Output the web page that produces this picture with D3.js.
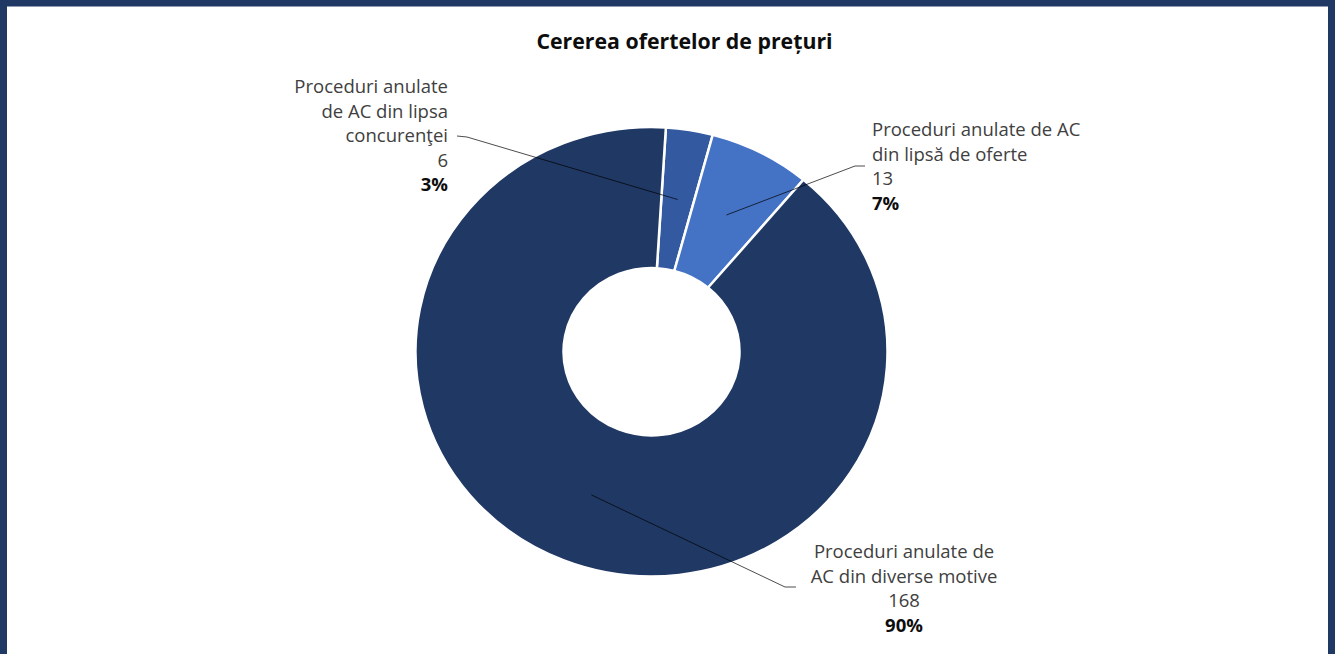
<!DOCTYPE html>
<html>
<head>
<meta charset="utf-8">
<script src="https://cdn.jsdelivr.net/npm/d3@7"></script>
<style>
  html, body { margin: 0; padding: 0; background: #fff; }
  svg { display: block; }
</style>
</head>
<body>
<div id="chart"></div>
<script>
// data
let categories = [
    ["Proceduri anulate", "de AC din lipsa", "concurenţei"],
    ["Proceduri anulate de AC", "din lipsă de oferte"],
    ["Proceduri anulate de", "AC din diverse motive"]
];
let values = [6, 13, 168];
let percents = ["3%", "7%", "90%"];
let colors = ["#335AA1", "#4472C4", "#203864"];

let W = 1336, H = 654;
let cx = 651.5, cy = 351.7, sy = 0.952;
let outerR = 236, innerR = 88;

// label layout: text anchor point, alignment, leader elbow and end
let labelLayout = [
    {x: 448, y: 93, anchor: "end", elbow: [467, 137], end: [457, 136]},
    {x: 872, y: 136, anchor: "start", elbow: [855, 166], end: [865, 166]},
    {x: 904, y: 558, anchor: "middle", elbow: [785, 587], end: [796, 587]}
];
let lineH = 24.5;
let font = "'Open Sans', Lato, sans-serif";

let svg = d3.select("#chart")
    .append("svg")
    .attr("width", W)
    .attr("height", H);

svg.append("rect")
    .attr("width", W).attr("height", H)
    .attr("fill", "#fff");

// frame
svg.append("path")
    .attr("d", "M3.5," + H + " V3 H1331.5 V" + H)
    .attr("fill", "none")
    .attr("stroke", "#1F3864")
    .attr("stroke-width", 7);

svg.append("text")
    .attr("x", 684.5)
    .attr("y", 49)
    .attr("text-anchor", "middle")
    .style("font-family", font)
    .style("font-weight", "bold")
    .style("font-size", "21.3px")
    .style("fill", "#0d0d0d")
    .text("Cererea ofertelor de prețuri");

let startA = 3.5 * Math.PI / 180;
let pie = d3.pie()
    .sort(null)
    .startAngle(startA)
    .endAngle(startA + 2 * Math.PI);

let arc = d3.arc()
    .innerRadius(innerR)
    .outerRadius(outerR);

let arcs = pie(values);

let g = svg.append("g")
    .attr("transform", "translate(" + cx + "," + cy + ") scale(1," + sy + ")");

g.selectAll(".slice")
    .data(arcs)
    .enter()
    .append("path")
    .classed("slice", true)
    .attr("d", arc)
    .attr("fill", function (d, i) {
        return colors[i]
    })
    .attr("stroke", "#fff")
    .attr("stroke-width", 2.5);

// leader lines from slice centroid
svg.selectAll(".leader")
    .data(arcs)
    .enter()
    .append("polyline")
    .classed("leader", true)
    .attr("points", function (d, i) {
        let c = arc.centroid(d);
        let p = [cx + c[0], cy + c[1] * sy];
        let L = labelLayout[i];
        return [p, L.elbow, L.end].map(function (q) {
            return q.join(",")
        }).join(" ");
    })
    .attr("fill", "none")
    .attr("stroke", "#000")
    .attr("stroke-opacity", 0.7)
    .attr("stroke-width", 1);

let labels = svg.selectAll(".lbl")
    .data(arcs)
    .enter()
    .append("text")
    .classed("lbl", true)
    .attr("text-anchor", function (d, i) {
        return labelLayout[i].anchor
    })
    .style("font-family", font)
    .style("font-size", "18.5px")
    .style("fill", "#404040");

labels.each(function (d, i) {
    let t = d3.select(this);
    let L = labelLayout[i];
    let lines = categories[i].concat([String(values[i])]);
    lines.forEach(function (s, k) {
        t.append("tspan")
            .attr("x", L.x)
            .attr("y", L.y + k * lineH)
            .text(s);
    });
    t.append("tspan")
        .attr("x", L.x)
        .attr("y", L.y + lines.length * lineH)
        .style("font-weight", "bold")
        .style("fill", "#0d0d0d")
        .text(percents[i]);
});
</script>
</body>
</html>
